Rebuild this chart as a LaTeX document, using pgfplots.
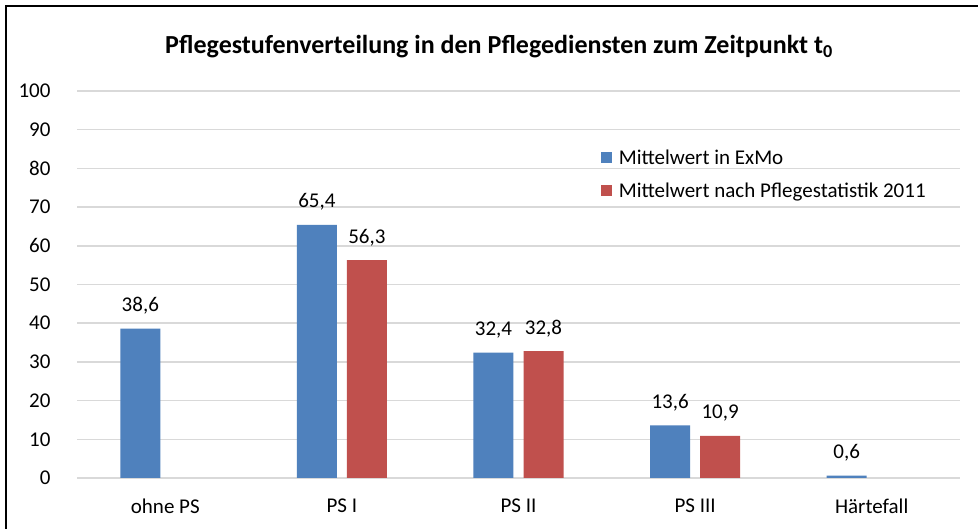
\documentclass[border=0pt]{standalone}
\usepackage{fontspec}
\setmainfont{Carlito}
\usepackage{pgfplots}
\pgfplotsset{compat=1.18}
\definecolor{cblue}{HTML}{4F81BD}
\definecolor{cred}{HTML}{C0504D}
\definecolor{cgrid}{HTML}{D9D9D9}
\begin{document}
\begin{tikzpicture}[x=1pt,y=1pt]
\useasboundingbox (0,0) rectangle (978,529);
\fill[white] (0,0) rectangle (978,529);
\draw[line width=2pt] (6,-10) -- (6,523) -- (990,523);
\node[font=\fontsize{26}{30}\selectfont\bfseries] at (499,482) {Pflegestufenverteilung in den Pflegediensten zum Zeitpunkt t\textsubscript{0}};
\begin{axis}[
  at={(77pt,51pt)}, anchor=south west,
  scale only axis, width=883pt, height=387pt,
  xmin=-0.5, xmax=4.5, ymin=0, ymax=100,
  axis line style={draw=none},
  ybar,
  bar width=0.2265,
  ytick={0,10,...,100},
  xtick={0,1,2,3,4},
  xticklabels={ohne PS, PS I, PS II, PS III, Härtefall},
  major tick length=0pt,
  ymajorgrids,
  grid style={cgrid, line width=1.5pt},
  /pgf/number format/assume math mode=true,
  tick label style={font=\fontsize{21}{24}\selectfont},
  yticklabel style={xshift=-23pt},
  xticklabel style={yshift=-17pt},
  nodes near coords,
  every node near coord/.append style={font=\fontsize{21}{24}\selectfont, anchor=base, yshift=17pt,
    /pgf/number format/.cd, fixed, fixed zerofill, precision=1, use comma, assume math mode=true},
  legend style={at={(0.593,0.853)}, anchor=north west, draw=none, fill=none,
    font=\fontsize{21}{24}\selectfont, row sep=13pt, inner sep=0pt},
  legend cell align=left,
  legend image code/.code={\fill[#1] (0pt,-5pt) rectangle (11.5pt,6.5pt); \path (16pt,0pt);},
]
\addplot[fill=cblue, draw=none, bar shift=-0.1416] coordinates {(0,38.6) (1,65.4) (2,32.4) (3,13.6) (4,0.6)};
\addplot[fill=cred, draw=none, bar shift=0.1416] coordinates {(1,56.3) (2,32.8) (3,10.9)};
\legend{Mittelwert in ExMo, Mittelwert nach Pflegestatistik 2011}
\end{axis}
\end{tikzpicture}
\end{document}
